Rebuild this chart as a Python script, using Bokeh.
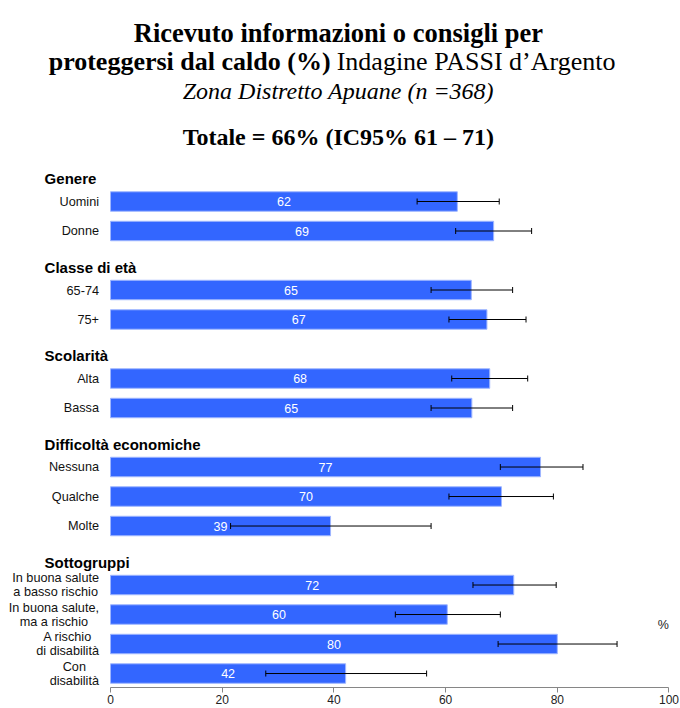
from bokeh.plotting import figure
from bokeh.models import ColumnDataSource, Range1d, FixedTicker, Whisker, TeeHead
from bokeh.core.properties import value
from bokeh.embed import file_html
from bokeh.resources import INLINE

# ---------------- data ----------------
group_names = ["Genere", "Classe di età", "Scolarità", "Difficoltà economiche", "Sottogruppi"]
group_sizes = [2, 2, 2, 3, 4]
categories = ["Uomini", "Donne", "65-74", "75+", "Alta", "Bassa",
              "Nessuna", "Qualche", "Molte",
              "In buona salute\na basso rischio", "In buona salute,\nma a rischio",
              "A rischio\ndi disabilità", "Con\ndisabilità"]
values = [62.1, 68.6, 64.6, 67.4, 67.9, 64.7, 77.0, 70.0, 39.4, 72.2, 60.3, 80.0, 42.1]
ci_low = [54.9, 61.8, 57.4, 60.6, 61.1, 57.4, 69.8, 60.6, 21.5, 64.9, 51.0, 69.4, 27.8]
ci_high = [69.6, 75.4, 72.0, 74.4, 74.7, 72.0, 84.6, 79.3, 57.4, 79.8, 69.8, 90.7, 56.6]
x_ticks = [0, 20, 40, 60, 80, 100]

title_line1 = "Ricevuto informazioni o consigli per"
title_line2_bold = "proteggersi dal caldo (%)"
title_line2_normal = "Indagine PASSI d\u2019Argento"
title_line3 = "Zona Distretto Apuane (n =368)"
title_line4 = "Totale = 66% (IC95% 61 \u2013 71)"

SANS = "Liberation Sans"
SERIF = "Liberation Serif"
BLUE = "#3366FF"

# slot positions: one empty slot between groups
ys = []
head_y = []
slot = 0
for n in group_sizes:
    head_y.append(slot - 0.78)
    for _ in range(n):
        ys.append(slot)
        slot += 1
    slot += 1

src = ColumnDataSource(dict(
    y=ys, val=values, lo=ci_low, hi=ci_high, cat=categories,
    mid=[v / 2 for v in values], lab=[f"{v:.0f}" for v in values],
))

p = figure(width=680, height=708,
           x_range=Range1d(-19.70, 102.06), y_range=Range1d(16.474, -6.814),
           output_backend="svg", toolbar_location=None, y_axis_location=None,
           min_border_left=0, min_border_right=0, min_border_top=0, min_border_bottom=21)
p.outline_line_color = None
p.xgrid.visible = False
p.ygrid.visible = False
p.background_fill_color = "white"
p.border_fill_color = "white"

# bars
p.hbar(y="y", left=0, right="val", height=0.66, source=src,
       fill_color=BLUE, line_color="#9fb6ff", line_width=1)

# value labels
p.text(x="mid", y="y", text="lab", source=src, text_color="white",
       text_font=value(SANS), text_font_size="12.5px",
       text_align="center", text_baseline="middle")

# error bars
wh = Whisker(source=src, base="y", lower="lo", upper="hi", dimension="width",
             line_color="black", line_width=1, level="overlay",
             lower_head=TeeHead(size=6, line_color="black", line_width=1),
             upper_head=TeeHead(size=6, line_color="black", line_width=1))
p.add_layout(wh)

# category labels
p.text(x=-2.06, y="y", text="cat", source=src, text_color="#111111",
       text_font=value(SANS), text_font_size="12.7px",
       text_align="center", text_baseline="middle",
       anchor=value("center_right"), text_line_height=1.0)

# group headings
p.text(x=[-11.8] * len(group_names), y=head_y, text=group_names,
       text_color="black", text_font=value(SANS), text_font_size="15px",
       text_font_style="bold", text_align="left", text_baseline="middle")

# axis unit
p.text(x=[99.0], y=[14.35], text=["%"], text_color="#222222",
       text_font=value(SANS), text_font_size="12.5px",
       text_align="center", text_baseline="middle")

# titles
cx = 40.8
p.text(x=[cx], y=[-5.72], text=[title_line1], text_font=value(SERIF),
       text_font_size="26.5px", text_font_style="bold", text_color="black",
       text_align="center", text_baseline="alphabetic")
p.text(x=[39.4], y=[-4.73], text=[title_line2_bold], text_font=value(SERIF),
       text_font_size="26px", text_font_style="bold", text_color="black",
       text_align="right", text_baseline="alphabetic")
p.text(x=[40.5], y=[-4.73], text=[title_line2_normal], text_font=value(SERIF),
       text_font_size="26px", text_font_style="normal", text_color="black",
       text_align="left", text_baseline="alphabetic")
p.text(x=[cx], y=[-3.73], text=[title_line3], text_font=value(SERIF),
       text_font_size="24px", text_font_style="italic", text_color="black",
       text_align="center", text_baseline="alphabetic")
p.text(x=[cx], y=[-2.20], text=[title_line4], text_font=value(SERIF),
       text_font_size="24px", text_font_style="bold", text_color="black",
       text_align="center", text_baseline="alphabetic")

# x axis
ax = p.xaxis[0]
ax.ticker = FixedTicker(ticks=x_ticks)
ax.bounds = (0, 100)
ax.axis_line_color = "#868686"
ax.major_tick_line_color = "#868686"
ax.major_tick_in = 0
ax.major_tick_out = 5
ax.minor_tick_line_color = None
ax.major_label_text_font = SANS
ax.major_label_text_font_size = "12px"
ax.major_label_text_color = "#222222"
ax.major_label_standoff = 2

open("out.html", "w").write(file_html(p, INLINE))
